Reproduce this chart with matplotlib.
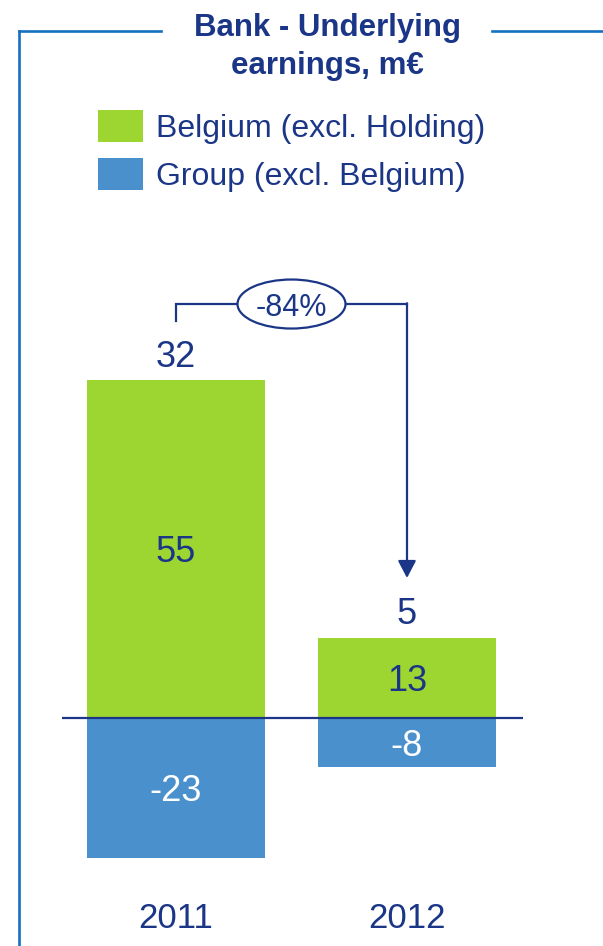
import matplotlib.pyplot as plt
from matplotlib.patches import Patch, Ellipse
from matplotlib.lines import Line2D

# Underlying earnings of the bank, m€
years = ['2011', '2012']
belgium = [55, 13]     # Belgium (excl. Holding)
group = [-23, -8]      # Group (excl. Belgium)
totals = [b + g for b, g in zip(belgium, group)]

NAVY = '#1b3687'
GREEN = '#9dd631'
BLUE = '#4a90cd'
FRAME = '#1570bf'

W, H = 603, 946
PX_PER_UNIT = 6.13
ZERO_PY = 717.5

plt.rcParams['font.family'] = ['Liberation Sans', 'DejaVu Sans']

fig = plt.figure(figsize=(W / 100, H / 100), dpi=100)
ax = fig.add_axes([0, 0, 1, 1])
ax.set_xlim(-176 / 231, (W - 176) / 231)
ax.set_ylim((ZERO_PY - H) / PX_PER_UNIT, ZERO_PY / PX_PER_UNIT)
ax.axis('off')


def fx(px):
    return px / W


def fy(py):
    return 1 - py / H


x = list(range(len(years)))
bw = 178 / 231
ax.bar(x, belgium, width=bw, color=GREEN, zorder=2)
ax.bar(x, group, width=bw, color=BLUE, zorder=2)
ax.hlines(0, -0.495, 1.5, color=NAVY, lw=1.6, zorder=3)

for i in x:
    ax.text(i, belgium[i] / 2, str(belgium[i]), ha='center',
            va='center_baseline', fontsize=26, color=NAVY, zorder=4)
    ax.text(i, group[i] / 2, str(group[i]), ha='center',
            va='center_baseline', fontsize=26, color='white', zorder=4)
    ax.annotate(str(totals[i]), xy=(i, belgium[i]), xytext=(0, 19.5),
                textcoords='offset points', ha='center', va='center_baseline',
                fontsize=26, color=NAVY)
    ax.text(i, -32.2, years[i], ha='center', va='center_baseline',
            fontsize=25, color=NAVY)

# bracket with the change between the two totals
yb = 67.45
ax.plot([0, 0, 1], [64.7, yb, yb], color=NAVY, lw=1.6, solid_joinstyle='miter')
ax.annotate('', xy=(1, 22.76), xytext=(1, yb + 0.13),
            arrowprops=dict(arrowstyle='-|>,head_length=1.05,head_width=0.55',
                            mutation_scale=10, color=NAVY, lw=1.6,
                            shrinkA=0, shrinkB=0))
ax.add_patch(Ellipse((0.5, yb), 108 / 231, 49 / PX_PER_UNIT, facecolor='white',
                     edgecolor=NAVY, lw=1.6, zorder=5))
change = (totals[1] - totals[0]) / totals[0] * 100
ax.text(0.5, yb, f'{change:.0f}%', ha='center', va='center_baseline',
        fontsize=22, color=NAVY, zorder=6)

# frame around the panel, open where the title sits
for xs, ys in [([19, 19], [31, H]), ([19, 161], [31, 31]), ([492, W], [31, 31])]:
    fig.add_artist(Line2D([fx(v) for v in xs], [fy(v) for v in ys],
                          color=FRAME, lw=1.9, solid_capstyle='projecting'))

fig.text(fx(327), fy(36), 'Bank - Underlying', ha='center', va='baseline',
         fontsize=22.5, fontweight='bold', color=NAVY)
fig.text(fx(327), fy(74), 'earnings, m€', ha='center', va='baseline',
         fontsize=22.5, fontweight='bold', color=NAVY)

handles = [Patch(facecolor=GREEN, edgecolor='none', label='Belgium (excl. Holding)'),
           Patch(facecolor=BLUE, edgecolor='none', label='Group (excl. Belgium)')]
fig.legend(handles=handles, loc='upper left', bbox_to_anchor=(fx(98), fy(110)),
           frameon=False, fontsize=23, labelcolor=NAVY, borderpad=0,
           borderaxespad=0, handlelength=1.41, handleheight=1.15,
           handletextpad=0.4, labelspacing=0.45)

fig.savefig('out.png', dpi=100)
